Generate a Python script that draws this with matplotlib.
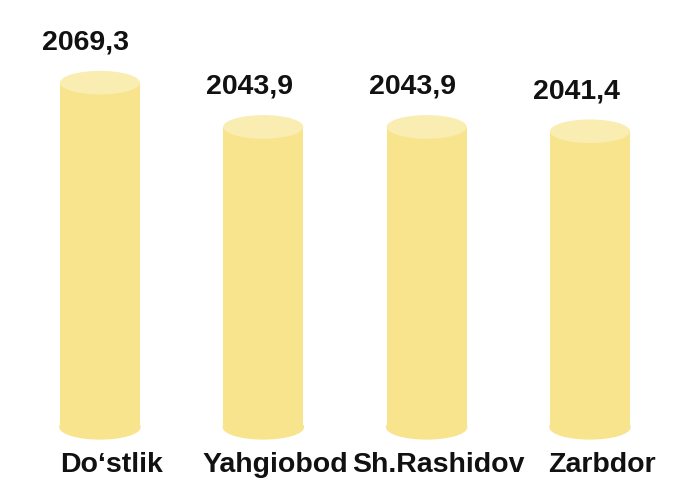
import matplotlib
matplotlib.use('Agg')
import matplotlib.pyplot as plt
from matplotlib.patches import Ellipse

# data
farms = ['Do\u2018stlik', 'Yahgiobod', 'Sh.Rashidov', 'Zarbdor']
values = [2069.3, 2043.9, 2043.9, 2041.4]
value_labels = ['2069,3', '2043,9', '2043,9', '2041,4']

side_color = '#f7e48d'
top_color = '#faedb2'
base = 1871.5          # where the cylinders stand
cap_h = 13.6           # ellipse height in data units
width = 0.49

plt.rcParams['font.family'] = ['Liberation Sans', 'DejaVu Sans']

fig = plt.figure(figsize=(6.96, 4.88), dpi=100)
ax = fig.add_axes([0, 0, 1, 1])
ax.set_xlim(-0.612, 3.649)
ax.set_ylim(1836.5, 2116.8)
ax.axis('off')

x = range(len(farms))
heights = [v - base for v in values]
ax.bar(x, heights, width=width, bottom=base, color=side_color, zorder=2)

for i, v in zip(x, values):
    # bottom cap
    ax.add_patch(Ellipse((i, base), width, cap_h, color=side_color, zorder=1))
    # top cap
    ax.add_patch(Ellipse((i, v), width, cap_h, facecolor=top_color,
                         edgecolor='none', zorder=3))

for i, v, lab in zip(x, values, value_labels):
    ax.annotate(lab, (i, v), xytext=(-14, 40), textcoords='offset pixels',
                ha='center', va='center', fontsize=20.5, fontweight='bold',
                color='#111111')

for i, name in zip(x, farms):
    ax.annotate(name, (i, 0), xycoords=('data', 'axes fraction'),
                xytext=(12, 23), textcoords='offset pixels',
                ha='center', va='center', fontsize=20.5, fontweight='bold',
                color='#111111')

fig.savefig('out.png', dpi=100, facecolor='white')
